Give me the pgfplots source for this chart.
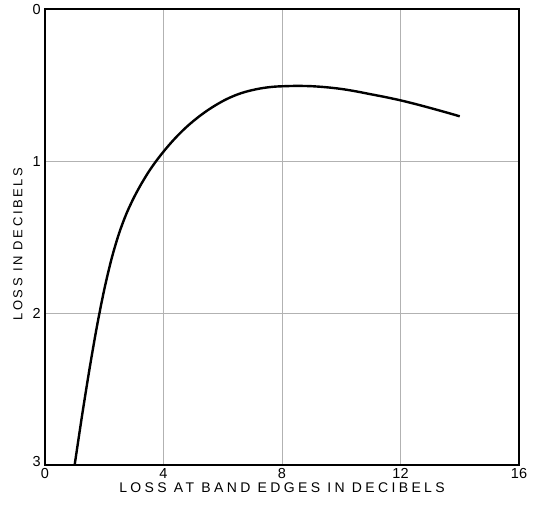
\documentclass[border=0pt]{standalone}
\usepackage{fontspec}
\setmainfont{Liberation Sans}
\newfontfamily\xlabfont{Liberation Sans}[LetterSpace=24]
\newfontfamily\ylabfont{Liberation Sans}[LetterSpace=20]
\usepackage{pgfplots}
\pgfplotsset{compat=1.18}

\begin{document}
\begin{tikzpicture}
\begin{axis}[name=ax, scale only axis,
    width=474pt, height=456pt,
    xmin=0, xmax=16, ymin=0, ymax=3,
    y dir=reverse,
    xtick={0,4,8,12,16}, ytick={0,1,2,3},
    yticklabels={0,1,2,\raisebox{7pt}{3}},
    major tick length=0pt,
    grid=major,
    grid style={gray!60, line width=0.8pt},
    axis line style={black, line width=1.8pt},
    /pgf/number format/assume math mode=true,
    tick label style={font=\fontsize{14.5}{16}\selectfont},
    xticklabel style={inner sep=3pt},
    yticklabel style={inner sep=4pt},
    xlabel={\xlabfont LOSS AT BAND EDGES IN DECIBELS},
    ylabel={\ylabfont LOSS IN DECIBELS},
    xlabel style={font=\fontsize{14}{16}\selectfont,
      at={(axis description cs:0.5,0)}, anchor=center, yshift=-23pt},
    ylabel style={font=\fontsize{13}{15}\selectfont,
      at={(axis description cs:0,0.5)}, anchor=center, yshift=27pt, xshift=-7pt},
  ]
  \addplot[black, line width=2.4pt, smooth] coordinates {
    (1.0,3.0) (1.25,2.675) (1.5,2.37) (1.75,2.09) (2.0,1.845)
    (2.25,1.64) (2.5,1.475) (2.75,1.345) (3.0,1.24) (3.25,1.15)
    (3.5,1.07) (3.75,1.0) (4.0,0.9375) (4.25,0.88) (4.5,0.8275)
    (4.75,0.78) (5.0,0.7375) (5.25,0.699) (5.5,0.664) (5.75,0.633)
    (6.0,0.605) (6.25,0.581) (6.5,0.561) (6.75,0.545) (7.0,0.5325)
    (7.25,0.5225) (7.5,0.515) (7.75,0.51) (8.0,0.5075) (8.5,0.505)
    (9.0,0.507) (9.5,0.514) (10.0,0.525) (10.5,0.541) (11.0,0.56)
    (11.5,0.579) (12.0,0.60) (12.5,0.624) (13.0,0.65) (13.5,0.677)
    (14.0,0.705)
  };
\end{axis}
\path ([shift={(-45pt,-39pt)}]ax.south west) rectangle ([shift={(15pt,5pt)}]ax.north east);
\end{tikzpicture}
\end{document}
